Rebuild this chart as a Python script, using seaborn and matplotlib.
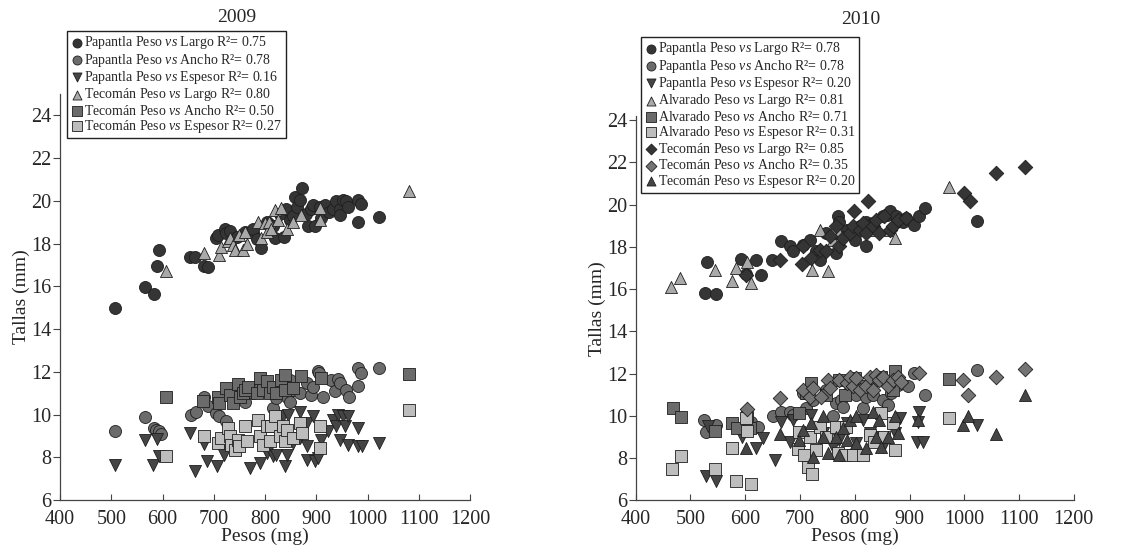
import seaborn as sns
import matplotlib.pyplot as plt

# 2009 - Papantla
pap09_largo_x = [508, 565, 583, 590, 594, 654, 663, 680, 689, 704, 708, 721, 724, 731, 745, 760, 777, 777, 784, 793,
                 803, 808, 816, 820, 829, 837, 841, 848, 855, 858, 862, 868, 873, 880, 884, 890, 894, 897, 907, 910,
                 917, 925, 933, 939, 946, 946, 952, 958, 961, 981, 981, 987, 1022]
pap09_largo_y = [15.0, 15.95, 15.65, 16.93, 17.7, 17.35, 17.35, 16.97, 16.88, 18.25, 18.4, 18.7, 18.5, 18.6, 18.3,
                 18.55, 18.5, 18.66, 18.2, 17.8, 19.0, 18.9, 18.8, 18.25, 19.4, 18.33, 19.6, 19.1, 19.3, 20.2,
                 19.7, 20.04, 20.59, 19.4, 18.8, 19.6, 19.8, 18.8, 19.73, 19.2, 19.8, 19.5, 19.6, 19.97, 19.6,
                 19.34, 20.04, 19.97, 19.73, 20.04, 19.03, 19.85, 19.23]
pap09_ancho_x = [508, 566, 583, 588, 593, 596, 656, 666, 680, 689, 705, 711, 724, 738, 741, 760, 777, 790, 803, 816,
                 822, 842, 848, 849, 855, 868, 881, 890, 894, 903, 905, 913, 929, 936, 942, 946, 958, 964, 981, 981,
                 987, 1022]
pap09_ancho_y = [9.24, 9.89, 9.36, 9.29, 9.21, 9.1, 9.99, 10.14, 10.81, 10.38, 10.07, 9.91, 9.68, 10.92, 10.69,
                 10.6, 11.0, 11.31, 11.16, 10.3, 10.77, 10.84, 11.62, 10.6, 11.16, 11.0, 11.47, 10.92, 11.31, 12.06,
                 11.93, 10.81, 11.62, 11.08, 11.65, 11.47, 11.15, 10.84, 12.17, 11.34, 11.93, 12.17]
pap09_esp_x = [508, 565, 582, 589, 593, 654, 663, 680, 687, 707, 717, 720, 770, 790, 803, 803, 816, 822, 835, 839,
               842, 845, 855, 868, 868, 881, 881, 881, 894, 897, 903, 910, 923, 932, 939, 942, 946, 952, 955, 961,
               961, 981, 981, 990, 1022]
pap09_esp_y = [7.65, 8.82, 7.65, 8.85, 8.04, 9.13, 7.34, 8.63, 7.81, 7.57, 8.51, 8.12, 7.5, 7.73, 8.2, 8.66, 8.04,
               8.12, 9.91, 7.57, 8.12, 9.99, 8.66, 10.14, 8.9, 9.6, 8.51, 7.89, 9.91, 7.81, 7.96, 8.82, 9.21, 9.75,
               9.44, 9.99, 8.82, 9.91, 9.44, 9.91, 8.59, 9.36, 8.51, 8.51, 8.66]

# 2009 - Tecoman
tec09_largo_x = [607, 680, 711, 714, 727, 731, 737, 741, 750, 757, 760, 764, 786, 793, 800, 803, 807, 812, 819, 825,
                 832, 842, 855, 871, 907, 908, 1081]
tec09_largo_y = [16.7, 17.55, 17.47, 17.86, 18.1, 18.25, 17.94, 17.7, 18.4, 17.7, 18.56, 18.0, 19.03, 18.25, 18.95,
                 18.56, 19.03, 18.7, 19.58, 19.1, 19.66, 18.7, 19.03, 19.34, 19.66, 19.1, 20.48]
tec09_ancho_x = [606, 679, 708, 711, 724, 731, 737, 747, 752, 757, 760, 767, 784, 790, 796, 803, 809, 816, 822, 832,
                 838, 838, 855, 871, 910, 1081]
tec09_ancho_y = [10.8, 10.61, 10.84, 10.53, 11.23, 10.92, 10.53, 11.43, 10.84, 11.0, 11.16, 11.31, 11.0, 11.7,
                 11.16, 11.55, 11.0, 11.31, 11.0, 11.62, 11.86, 11.16, 11.23, 11.78, 11.7, 11.89]
tec09_esp_x = [606, 680, 708, 714, 727, 731, 734, 741, 747, 750, 760, 764, 786, 790, 796, 803, 809, 812, 819, 829,
               835, 838, 842, 855, 868, 873, 907, 908, 1081]
tec09_esp_y = [8.07, 8.98, 8.66, 8.9, 9.36, 8.98, 8.59, 8.35, 8.82, 8.51, 9.44, 8.74, 9.75, 8.98, 8.59, 9.44, 8.74,
               9.44, 9.91, 8.98, 9.44, 8.74, 9.29, 8.9, 9.6, 9.13, 9.44, 8.43, 10.19]

# 2010 - Papantla
pap10_largo_x = [526, 531, 547, 592, 602, 620, 628, 649, 666, 681, 687, 706, 718, 730, 736, 748, 766, 769, 772, 785,
                 800, 809, 820, 821, 833, 851, 858, 864, 876, 888, 894, 909, 918, 928, 1024]
pap10_largo_y = [15.82, 17.27, 15.77, 17.43, 16.7, 17.4, 16.67, 17.4, 18.27, 18.03, 17.8, 18.1, 18.35, 17.8, 17.4,
                 18.66, 17.7, 19.45, 19.2, 18.82, 18.35, 19.0, 18.03, 19.2, 19.14, 19.45, 19.53, 19.72, 19.45, 19.2,
                 19.36, 19.04, 19.45, 19.82, 19.25]
pap10_ancho_x = [524, 529, 547, 611, 623, 650, 666, 681, 687, 705, 711, 723, 748, 760, 766, 775, 778, 788, 803, 815,
                 821, 833, 851, 860, 866, 870, 879, 897, 909, 928, 1024]
pap10_ancho_y = [9.81, 9.25, 9.57, 9.73, 9.49, 9.97, 10.2, 10.2, 10.04, 11.07, 10.36, 10.76, 11.2, 9.97, 10.6,
                 10.76, 10.44, 11.07, 10.99, 10.36, 10.91, 10.99, 10.76, 10.52, 11.07, 11.39, 11.47, 11.42, 12.02,
                 10.99, 12.18]
pap10_esp_x = [529, 532, 547, 595, 620, 632, 655, 666, 681, 687, 721, 742, 760, 772, 785, 803, 815, 827, 833, 851,
               873, 882, 914, 915, 918, 924, 1024]
pap10_esp_y = [7.15, 9.52, 6.93, 9.02, 8.46, 8.94, 7.91, 9.73, 8.78, 9.81, 10.04, 9.18, 8.54, 8.86, 9.65, 8.7, 9.81,
               9.18, 9.02, 8.54, 9.18, 9.89, 8.78, 9.73, 10.2, 8.78, 9.57]

# 2010 - Alvarado
alv10_largo_x = [465, 481, 545, 576, 584, 603, 611, 722, 736, 751, 760, 772, 833, 864, 874, 973]
alv10_largo_y = [16.1, 16.55, 16.9, 16.37, 17.0, 17.27, 16.3, 16.9, 18.82, 16.85, 18.35, 18.66, 18.82, 18.82, 18.43,
                 20.86]
alv10_ancho_x = [468, 482, 544, 576, 585, 603, 608, 698, 711, 720, 748, 772, 782, 800, 815, 833, 848, 870, 873, 972]
alv10_ancho_y = [10.39, 9.93, 9.3, 9.65, 9.41, 9.93, 9.41, 10.12, 11.07, 11.55, 10.99, 11.7, 10.99, 11.78, 11.39,
                 11.7, 11.86, 11.23, 12.1, 11.75]
alv10_esp_x = [467, 482, 544, 576, 584, 602, 603, 611, 696, 699, 708, 714, 718, 722, 730, 736, 748, 766, 769, 782,
               784, 797, 815, 827, 836, 848, 854, 870, 873, 973]
alv10_esp_y = [7.5, 8.12, 7.5, 8.46, 6.9, 9.89, 9.3, 6.77, 8.42, 9.25, 8.15, 7.6, 9.02, 7.25, 8.38, 9.49, 9.02,
               9.49, 8.23, 8.15, 9.49, 8.15, 8.15, 9.1, 8.78, 10.12, 9.02, 9.65, 8.38, 9.92]

# 2010 - Tecoman
tec10_largo_x = [602, 663, 704, 705, 721, 736, 748, 754, 766, 772, 778, 791, 797, 798, 809, 815, 821, 825, 833, 839,
                 845, 854, 864, 870, 879, 894, 1000, 1010, 1058, 1110]
tec10_largo_y = [16.69, 17.37, 17.2, 18.03, 17.48, 17.87, 17.8, 18.5, 18.98, 18.03, 18.43, 18.66, 18.98, 19.69,
                 18.82, 19.12, 18.66, 20.16, 18.98, 19.28, 18.66, 19.45, 18.82, 18.98, 19.28, 19.36, 20.55, 20.16,
                 21.5, 21.79]
tec10_ancho_x = [603, 663, 705, 718, 723, 739, 751, 754, 772, 785, 791, 797, 803, 809, 821, 827, 833, 839, 845, 851,
                 860, 870, 879, 885, 918, 997, 1007, 1058, 1110]
tec10_ancho_y = [10.31, 10.83, 11.23, 10.91, 11.31, 10.91, 11.7, 11.31, 11.7, 11.55, 11.86, 11.39, 11.78, 11.23,
                 11.39, 11.86, 11.23, 11.94, 11.7, 11.86, 11.39, 11.7, 11.86, 11.62, 12.05, 11.7, 10.99, 11.86, 12.21]
tec10_esp_x = [602, 663, 699, 705, 721, 724, 742, 742, 751, 766, 772, 778, 785, 791, 803, 803, 821, 833, 839, 845,
               848, 860, 873, 879, 915, 997, 1007, 1058, 1110]
tec10_esp_y = [8.46, 9.14, 8.86, 9.33, 9.65, 8.07, 9.97, 9.02, 8.23, 9.02, 8.15, 9.41, 8.86, 9.81, 9.97, 8.7, 8.46,
               10.2, 9.02, 9.81, 8.54, 9.02, 9.97, 9.18, 9.81, 9.57, 9.97, 9.14, 10.99]

r2_2009 = ['0.75', '0.78', '0.16', '0.80', '0.50', '0.27']
r2_2010 = ['0.78', '0.78', '0.20', '0.81', '0.71', '0.31', '0.85', '0.35', '0.20']

sns.set_style('ticks')
plt.rcParams['font.family'] = ['Liberation Serif', 'DejaVu Serif']
plt.rcParams['mathtext.fontset'] = 'custom'
plt.rcParams['mathtext.rm'] = 'Liberation Serif'
plt.rcParams['mathtext.it'] = 'Liberation Serif:italic'

DARK = '#353535'
MID = '#6b6b6b'
LIGHT = '#a9a9a9'
PALE = '#bdbdbd'


def lab(site, var, r2):
    return site + ' Peso $\\it{vs}$ ' + var + ' R\u00b2= ' + r2


fig = plt.figure(figsize=(11.46, 5.56), dpi=100)
ax1 = fig.add_axes([0.0524, 0.1007, 0.3578, 0.7303])
ax2 = fig.add_axes([0.5547, 0.1002, 0.3823, 0.6912])

series_2009 = [
    (pap09_largo_x, pap09_largo_y, 'o', DARK, lab('Papantla', 'Largo', r2_2009[0])),
    (pap09_ancho_x, pap09_ancho_y, 'o', MID, lab('Papantla', 'Ancho', r2_2009[1])),
    (pap09_esp_x, pap09_esp_y, 'v', '#454545', lab('Papantla', 'Espesor', r2_2009[2])),
    (tec09_largo_x, tec09_largo_y, '^', LIGHT, lab('Tecomán', 'Largo', r2_2009[3])),
    (tec09_ancho_x, tec09_ancho_y, 's', MID, lab('Tecomán', 'Ancho', r2_2009[4])),
    (tec09_esp_x, tec09_esp_y, 's', PALE, lab('Tecomán', 'Espesor', r2_2009[5])),
]
series_2010 = [
    (pap10_largo_x, pap10_largo_y, 'o', DARK, lab('Papantla', 'Largo', r2_2010[0])),
    (pap10_ancho_x, pap10_ancho_y, 'o', MID, lab('Papantla', 'Ancho', r2_2010[1])),
    (pap10_esp_x, pap10_esp_y, 'v', '#454545', lab('Papantla', 'Espesor', r2_2010[2])),
    (alv10_largo_x, alv10_largo_y, '^', LIGHT, lab('Alvarado', 'Largo', r2_2010[3])),
    (alv10_ancho_x, alv10_ancho_y, 's', MID, lab('Alvarado', 'Ancho', r2_2010[4])),
    (alv10_esp_x, alv10_esp_y, 's', PALE, lab('Alvarado', 'Espesor', r2_2010[5])),
    (tec10_largo_x, tec10_largo_y, 'D', DARK, lab('Tecomán', 'Largo', r2_2010[6])),
    (tec10_ancho_x, tec10_ancho_y, 'D', '#747474', lab('Tecomán', 'Ancho', r2_2010[7])),
    (tec10_esp_x, tec10_esp_y, '^', '#454545', lab('Tecomán', 'Espesor', r2_2010[8])),
]

for ax, series in [(ax1, series_2009), (ax2, series_2010)]:
    for xs, ys, m, c, label in series:
        size = 55 if m == 'D' else 75
        sns.scatterplot(x=xs, y=ys, ax=ax, marker=m, color=c, edgecolor='#1e1e1e',
                        linewidth=0.6, s=size, label=label, zorder=3)
    ax.set_xlim(400, 1200)
    ax.set_xticks(range(400, 1201, 100))
    ax.set_yticks(range(6, 25, 2))
    ax.set_xlabel('Pesos (mg)', fontsize=14, labelpad=-1)
    ax.set_ylabel('Tallas (mm)', fontsize=14, labelpad=1)
    ax.tick_params(axis='x', direction='in', length=4, labelsize=14.5, pad=7, color='#444444')
    ax.tick_params(axis='y', direction='out', length=5, labelsize=14.5, pad=1, color='#444444')
    for s in ['top', 'right']:
        ax.spines[s].set_visible(False)
    for s in ['left', 'bottom']:
        ax.spines[s].set_color('#444444')
        ax.spines[s].set_linewidth(0.9)

ax1.set_ylim(6, 25)
ax2.set_ylim(6, 24.2)

ax1.legend(loc='upper left', bbox_to_anchor=(67 / 1146, 1 - 31 / 556), bbox_transform=fig.transFigure,
           fontsize=10, frameon=True, fancybox=False, edgecolor='#222222', framealpha=1,
           handletextpad=0.0, handlelength=1.0, labelspacing=0.02, borderpad=0.25, borderaxespad=0,
           markerscale=0.75)
ax2.legend(loc='upper left', bbox_to_anchor=(641 / 1146, 1 - 37 / 556), bbox_transform=fig.transFigure,
           fontsize=10, frameon=True, fancybox=False, edgecolor='#222222', framealpha=1,
           handletextpad=0.0, handlelength=1.0, labelspacing=0.02, borderpad=0.25, borderaxespad=0,
           markerscale=0.75)

fig.text(237 / 1146, 1 - 17 / 556, '2009', ha='center', va='center', fontsize=14)
fig.text(861 / 1146, 1 - 20 / 556, '2010', ha='center', va='center', fontsize=14)

fig.savefig('out.png', dpi=100)
